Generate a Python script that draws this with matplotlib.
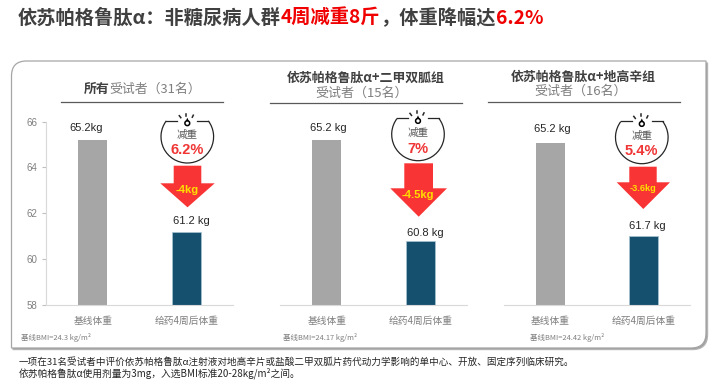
import matplotlib
matplotlib.use("Agg")
import matplotlib.pyplot as plt
from matplotlib.patches import Arc, PathPatch, Polygon, Circle
from matplotlib.path import Path

plt.rcParams['font.family'] = ['Noto Sans CJK SC', 'DejaVu Sans']

# full width punctuation
COLON, COMMA, LP, RP = '\uff1a', '\uff0c', '\uff08', '\uff09'

# data
categories = ['基线体重', '给药4周后体重']
yticks = [58, 60, 62, 64, 66]
all_bars = [65.2, 61.2]
metformin_bars = [65.2, 60.8]
glipizide_bars = [65.05, 61.0]
all_labels = ['65.2kg', '61.2 kg']
metformin_labels = ['65.2 kg', '60.8 kg']
glipizide_labels = ['65.2 kg', '61.7 kg']
loss_pct = ['6.2%', '7%', '5.4%']
loss_kg = ['-4kg', '-4.5kg', '-3.6kg']
bmi_notes = ['基线BMI=24.3 kg/m²', '基线BMI=24.17 kg/m²', '基线BMI=24.42 kg/m²']

W, H = 722, 382
DARK = '#404040'
GREY = '#7f7f7f'
RED = '#f03535'
ARIAL = ['Liberation Sans', 'Noto Sans CJK SC']

fig = plt.figure(figsize=(W / 100, H / 100), dpi=100)

# overlay in pixel coordinates for the slide furniture
bg = fig.add_axes([0, 0, 1, 1])
bg.set_xlim(0, W)
bg.set_ylim(H, 0)
bg.axis('off')


def panel_path(l, t, r, b, rad):
    verts = [(l, t + rad), (l, t), (l + rad, t), (r, t), (r, b - rad), (r, b),
             (r - rad, b), (l, b), (l, t + rad)]
    codes = [Path.MOVETO, Path.CURVE3, Path.CURVE3, Path.LINETO, Path.LINETO,
             Path.CURVE3, Path.CURVE3, Path.LINETO, Path.LINETO]
    return Path(verts, codes)


bg.add_patch(PathPatch(panel_path(13, 63, 707.5, 349.5, 15), fc='#9a9a9a', ec='#b5b5b5', lw=1.0, zorder=1))
bg.add_patch(PathPatch(panel_path(11.5, 61, 706, 348, 15), fc='white', ec='#a6a6a6', lw=0.9, zorder=2))

# title, coloured piece by piece
pieces = [('依苏帕格鲁肽α' + COLON + '非糖尿病人群', '#404040'), ('4周减重8斤', '#f00000'),
          (COMMA + '体重降幅达', '#404040'), ('6.2%', '#f00000')]
x = 18
renderer = fig.canvas.get_renderer()
for s, c in pieces:
    t = bg.text(x, 18, s, color=c, fontsize=13.85, fontweight='bold', va='center', ha='left', zorder=5)
    x = t.get_window_extent(renderer).x1


def bar_axes(left, right, values, show_y):
    ax = fig.add_axes([left / W, 1 - 305 / H, (right - left) / W, (305 - 121.5) / H])
    ax.patch.set_alpha(0)
    ax.bar([0, 1], values, width=0.31, color=['#a6a6a6', '#15506f'], edgecolor=['none', '#a9c3d1'], linewidth=0.5)
    ax.set_xlim(-0.5, 1.5)
    ax.set_ylim(58, 66)
    ax.set_xticks([0, 1])
    ax.set_xticklabels(categories, fontsize=7, color=GREY)
    ax.tick_params(axis='x', length=0, pad=8)
    for s in ['top', 'right']:
        ax.spines[s].set_visible(False)
    ax.spines['bottom'].set_color('#d9d9d9')
    if show_y:
        ax.set_yticks(yticks)
        ax.set_yticklabels(yticks, fontsize=7, color=GREY, family=ARIAL)
        ax.tick_params(axis='y', length=3, color='#bfbfbf', pad=3)
        ax.spines['left'].set_color('#d9d9d9')
    else:
        ax.set_yticks([])
        ax.spines['left'].set_visible(False)
    return ax


bar_axes(46, 233, all_bars, True)
bar_axes(280, 467, metformin_bars, False)
bar_axes(503.7, 690, glipizide_bars, False)

# panel headings
t = bg.text(84, 89, '所有', fontsize=9.3, fontweight='bold', color=DARK, va='center', ha='left', zorder=5)
bg.text(t.get_window_extent(renderer).x1, 89, '受试者' + LP + '31名' + RP, fontsize=9.3, color=GREY, va='center', ha='left', zorder=5)
bg.text(366, 78, '依苏帕格鲁肽α+二甲双胍组', fontsize=9.3, fontweight='bold', color=DARK, va='center', ha='center', zorder=5)
bg.text(362, 93, '受试者' + LP + '15名' + RP, fontsize=9.4, color=GREY, va='center', ha='center', zorder=5)
bg.text(583.7, 76.7, '依苏帕格鲁肽α+地高辛组', fontsize=9.3, fontweight='bold', color=DARK, va='center', ha='center', zorder=5)
bg.text(581, 91.7, '受试者' + LP + '16名' + RP, fontsize=9.4, color=GREY, va='center', ha='center', zorder=5)
for x0, x1, y in [(61, 223, 101.5), (270, 461.7, 103), (487.7, 679.7, 101.7)]:
    bg.plot([x0, x1], [y, y], color='#595959', lw=0.9, zorder=5)

# value labels
label_pos = [[(86, 127.7), (191, 221)], [(328, 127.7), (425, 233)], [(552, 128.7), (647.7, 225.7)]]
for labels, pos in zip([all_labels, metformin_labels, glipizide_labels], label_pos):
    for s, (px, py) in zip(labels, pos):
        bg.text(px, py, s, fontsize=8, color='#262626', family=ARIAL, ha='center', va='center', zorder=6)

# red arrows: shaft x0, x1, top, head x0, x1, head y, tip x, tip y
arrows = [(173.7, 201.3, 165.7, 160.3, 214.7, 183.3, 187.5, 207.3),
          (404.3, 433, 163.3, 390.3, 447, 188.3, 418.7, 216.7),
          (629.3, 656.7, 166.7, 616.7, 670, 182.3, 643.3, 209)]
for a in arrows:
    sx0, sx1, top, hx0, hx1, hy, tx, ty = a
    bg.add_patch(Polygon([(sx0, top), (sx1, top), (sx1, hy), (hx1, hy), (tx, ty), (hx0, hy), (sx0, hy)],
                         closed=True, fc='#f93434', ec='none', zorder=7))

kg_pos = [(187.5, 189.7, 8), (417.7, 195, 8), (643.3, 188.3, 6.6)]
for s, (px, py, fs) in zip(loss_kg, kg_pos):
    bg.text(px, py, s, fontsize=fs, fontweight='bold', color='#ffe000', family=ARIAL, ha='center', va='center', zorder=8)

# "weight loss" badges: centre x, centre y, y of 减重, y of percentage
badges = [(187.3, 136.7, 134.5, 150.5), (418, 134.4, 133, 148.8), (641.8, 137.4, 135.5, 151.2)]
for (cx, cy, y1, y2), pct in zip(badges, loss_pct):
    bg.add_patch(Arc((cx, cy), 52.6, 52.6, theta1=-37, theta2=217, ec='#262626', lw=0.9, zorder=6))
    top = cy - 16
    bg.plot([cx - 21, cx - 10], [top, top], color='#262626', lw=0.9, zorder=6)
    bg.plot([cx + 10, cx + 21], [top, top], color='#262626', lw=0.9, zorder=6)
    bg.add_patch(Circle((cx, cy - 13.5), 2.4, fc='white', ec='black', lw=1.1, zorder=6))
    bg.add_patch(Polygon([(cx - 1.6, cy - 15.5), (cx + 1.6, cy - 15.5), (cx, cy - 19)], fc='black', ec='none', zorder=6))
    for dx0, dy0, dx1, dy1 in [(-8, -21, -6.5, -19), (-1, -23, -1, -21), (6, -21.5, 5, -19.5)]:
        bg.plot([cx + dx0, cx + dx1], [cy + dy0, cy + dy1], color='#262626', lw=1.1, zorder=6)
    bg.text(cx, y1, '减重', fontsize=7.6, color='#595959', ha='center', va='center', zorder=6)
    bg.text(cx, y2, pct, fontsize=10.5, fontweight='bold', color=RED, family=ARIAL, ha='center', va='center', zorder=6)

# BMI notes and footnote
for s, px in zip(bmi_notes, [21.3, 282.7, 530]):
    bg.text(px, 337.3, s, fontsize=5.4, color=GREY, ha='left', va='center', zorder=6)

bg.text(18.5, 361.7, '一项在31名受试者中评价依苏帕格鲁肽α注射液对地高辛片或盐酸二甲双胍片药代动力学影响的单中心、开放、固定序列临床研究。',
        fontsize=6.9, color='#262626', ha='left', va='center', zorder=6)
bg.text(18.5, 373, '依苏帕格鲁肽α使用剂量为3mg' + COMMA + '入选BMI标准20-28kg/m²之间。',
        fontsize=7.05, color='#262626', ha='left', va='center', zorder=6)

fig.savefig('out.png', dpi=100)
